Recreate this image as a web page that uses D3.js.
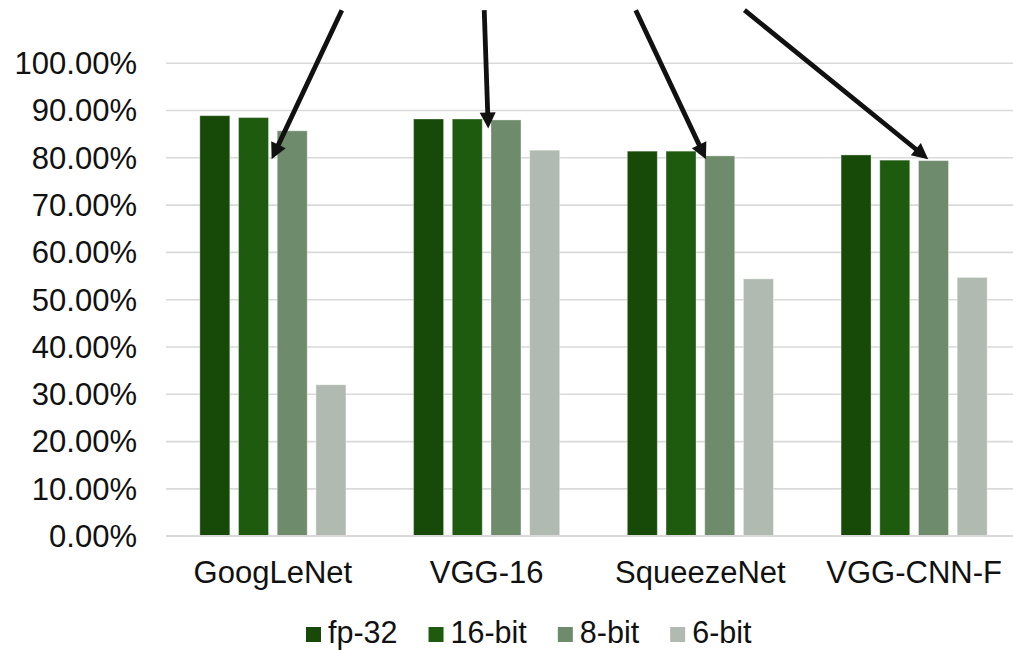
<!DOCTYPE html>
<html>
<head>
<meta charset="utf-8">
<script src="https://cdn.jsdelivr.net/npm/d3@7/dist/d3.min.js"></script>
<style>
  html, body { margin: 0; padding: 0; background: #fff; }
  svg { display: block; font-family: "Liberation Sans", Arial, sans-serif; }
</style>
</head>
<body>
<svg id="chart" width="1013" height="650"></svg>
<script>
// Top-1 accuracy per network at each numeric precision
const categories = ["GoogLeNet", "VGG-16", "SqueezeNet", "VGG-CNN-F"];
const seriesNames = ["fp-32", "16-bit", "8-bit", "6-bit"];
const fp32   = [0.888, 0.881, 0.813, 0.805];
const bit16  = [0.884, 0.881, 0.813, 0.794];
const bit8   = [0.856, 0.879, 0.803, 0.793];
const bit6   = [0.319, 0.815, 0.543, 0.546];
const seriesColors = ["#174a09", "#1e5b0f", "#6e8b6b", "#b0bab0"];
const yTicks = [0, 0.1, 0.2, 0.3, 0.4, 0.5, 0.6, 0.7, 0.8, 0.9, 1.0];

// Callout arrows aimed at the 8-bit bars: pixel offsets from the bar's left edge,
// vertical positions on the accuracy scale
const arrowCategory = ["GoogLeNet", "VGG-16", "SqueezeNet", "VGG-CNN-F"];
const arrowStartDx  = [64.6, -6.75, -69, -174];
const arrowTipDx    = [-5.6, -2.75, 1.2, 9.75];
const arrowStartVal = [1.111, 1.111, 1.111, 1.111];
const arrowTipVal   = [0.796, 0.861, 0.796, 0.796];

const values = [fp32, bit16, bit8, bit6];
const rows = categories.map((c, i) => ({
  category: c,
  bars: seriesNames.map((s, j) => ({ series: s, value: values[j][i] }))
}));

const svg = d3.select("#chart");
const plotLeft = 166, plotRight = 1021, plotTop = 62.7, plotBottom = 535.7;

const x0 = d3.scaleBand().domain(categories).range([plotLeft, plotRight]).padding(0);
const x1 = d3.scaleBand().domain(seriesNames).range([0, x0.bandwidth()])
  .paddingInner(0.225).paddingOuter(0.874);
const y = d3.scaleLinear().domain([0, 1]).range([plotBottom, plotTop]);
const color = d3.scaleOrdinal().domain(seriesNames).range(seriesColors);

// Y axis with gridlines
const yAxis = svg.append("g")
  .attr("transform", `translate(${plotLeft},0)`)
  .call(d3.axisLeft(y).tickValues(yTicks).tickFormat(d3.format(".2%"))
    .tickSize(-(plotRight - plotLeft)).tickPadding(29));
yAxis.select(".domain").remove();
yAxis.selectAll(".tick line").attr("stroke", "#d9d9d9").attr("stroke-width", 1.6);
yAxis.selectAll(".tick text")
  .attr("fill", "#111").style("font-size", "31px")
  .attr("dy", "0.35em");

// X axis labels
const xAxis = svg.append("g")
  .attr("transform", `translate(0,${plotBottom})`)
  .call(d3.axisBottom(x0).tickSize(0).tickPadding(25));
xAxis.select(".domain").remove();
xAxis.selectAll(".tick text").attr("fill", "#111").style("font-size", "31px");

// Bars
svg.append("g").selectAll("g")
  .data(rows).join("g")
  .attr("transform", d => `translate(${x0(d.category)},0)`)
  .selectAll("rect")
  .data(d => d.bars).join("rect")
  .attr("x", d => x1(d.series))
  .attr("y", d => y(d.value))
  .attr("width", x1.bandwidth())
  .attr("height", d => y(0) - y(d.value))
  .attr("fill", d => color(d.series))
  .attr("stroke", "rgba(255,255,255,0.35)")
  .attr("stroke-width", 1);

// Baseline
svg.append("line")
  .attr("x1", plotLeft).attr("x2", plotRight)
  .attr("y1", y(0)).attr("y2", y(0))
  .attr("stroke", "#d9d9d9").attr("stroke-width", 1.6);

// Arrows
const headLen = 16, headHalf = 8;
const arrows = svg.append("g");
arrowCategory.forEach((c, i) => {
  const barX = x0(c) + x1("8-bit");
  const sx = barX + arrowStartDx[i], sy = y(arrowStartVal[i]);
  const tx = barX + arrowTipDx[i], ty = y(arrowTipVal[i]);
  const ang = Math.atan2(ty - sy, tx - sx);
  const bx = tx - headLen * Math.cos(ang), by = ty - headLen * Math.sin(ang);
  arrows.append("line")
    .attr("x1", sx).attr("y1", sy).attr("x2", bx + Math.cos(ang)).attr("y2", by + Math.sin(ang))
    .attr("stroke", "#111").attr("stroke-width", 4.8);
  const px = -Math.sin(ang), py = Math.cos(ang);
  arrows.append("path")
    .attr("d", `M${tx},${ty}L${bx + px * headHalf},${by + py * headHalf}L${bx - px * headHalf},${by - py * headHalf}Z`)
    .attr("fill", "#111");
});

// Legend
const legend = svg.append("g").attr("transform", "translate(306,0)");
let lx = 0;
seriesNames.forEach((s) => {
  const item = legend.append("g").attr("transform", `translate(${lx},0)`);
  item.append("rect").attr("x", 0).attr("y", 627).attr("width", 15).attr("height", 15)
    .attr("fill", color(s));
  const t = item.append("text").attr("x", 22).attr("y", 643)
    .attr("fill", "#111").style("font-size", "30.5px").text(s);
  lx += 22 + t.node().getComputedTextLength() + 31;
});
</script>
</body>
</html>
